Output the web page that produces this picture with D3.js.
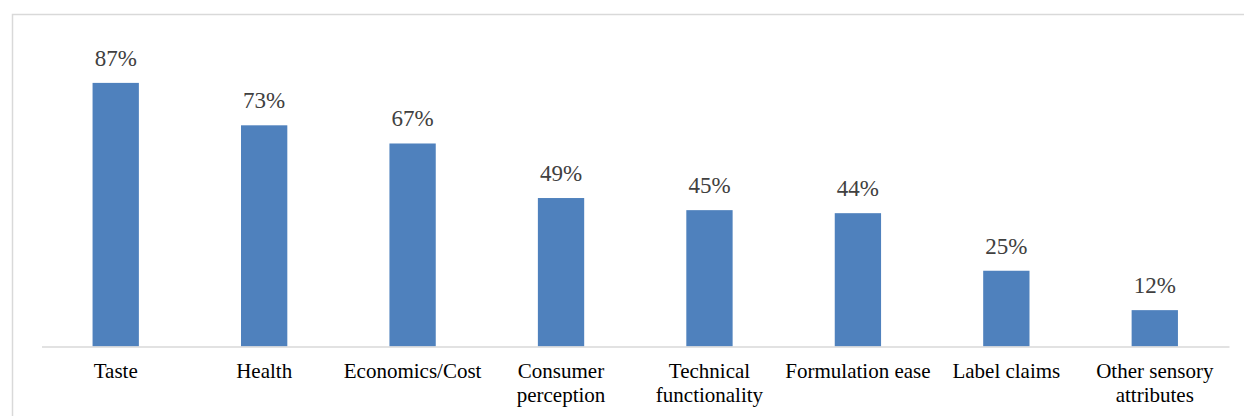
<!DOCTYPE html>
<html>
<head>
<meta charset="utf-8">
<script src="https://cdnjs.cloudflare.com/ajax/libs/d3/7.8.5/d3.min.js"></script>
<style>
  body { margin: 0; background: #fff; }
  svg text { font-family: "Liberation Serif", "Times New Roman", serif; }
</style>
</head>
<body>
<div id="chart"></div>
<script>
// data
const categories = ["Taste", "Health", "Economics/Cost", "Consumer perception",
  "Technical functionality", "Formulation ease", "Label claims", "Other sensory attributes"];
const labelLines = [["Taste"], ["Health"], ["Economics/Cost"], ["Consumer", "perception"],
  ["Technical", "functionality"], ["Formulation ease"], ["Label claims"], ["Other sensory", "attributes"]];
const values = [87, 73, 67, 49, 45, 44, 25, 12];

let w = 1244, h = 416;

let svg = d3.select("#chart")
    .append("svg")
    .attr("width", w)
    .attr("height", h);

// chart area border (runs off the right and bottom edge)
svg.append("rect")
    .attr("x", 12.5).attr("y", 14.5)
    .attr("width", w).attr("height", h)
    .attr("fill", "none")
    .attr("stroke", "#d9d9d9")
    .attr("stroke-width", 1.5);

let x = d3.scaleBand()
    .domain(categories)
    .range([41.5, 1229])
    .paddingInner(0.688)
    .paddingOuter(0.344);

let y = d3.scaleLinear()
    .domain([0, 100])
    .range([346.5, 43.5]);

svg.append("g").selectAll("rect")
    .data(values)
    .enter().append("rect")
    .attr("x", (d, i) => x(categories[i]))
    .attr("y", d => y(d))
    .attr("width", x.bandwidth())
    .attr("height", d => y(0) - y(d))
    .attr("fill", "#4f81bd");

// value labels
svg.append("g").selectAll("text")
    .data(values)
    .enter().append("text")
    .attr("x", (d, i) => x(categories[i]) + x.bandwidth() / 2)
    .attr("y", d => y(d) - 17)
    .attr("text-anchor", "middle")
    .attr("font-size", 23)
    .attr("fill", "#404040")
    .text(d => d + "%");

// category axis
let axis = svg.append("g")
    .attr("transform", "translate(0," + y(0) + ")")
    .call(d3.axisBottom(x).tickSize(0).tickFormat(""));
axis.select(".domain").attr("stroke", "#d9d9d9").attr("stroke-width", 1.5);

let cats = svg.append("g").selectAll("text")
    .data(categories)
    .enter().append("text")
    .attr("x", d => x(d) + x.bandwidth() / 2)
    .attr("y", 378)
    .attr("text-anchor", "middle")
    .attr("font-size", 21)
    .attr("fill", "#000");

cats.each(function(d, i) {
    let t = d3.select(this);
    labelLines[i].forEach((line, j) => {
        t.append("tspan")
            .attr("x", x(d) + x.bandwidth() / 2)
            .attr("dy", j === 0 ? 0 : 24)
            .text(line);
    });
});
</script>
</body>
</html>
